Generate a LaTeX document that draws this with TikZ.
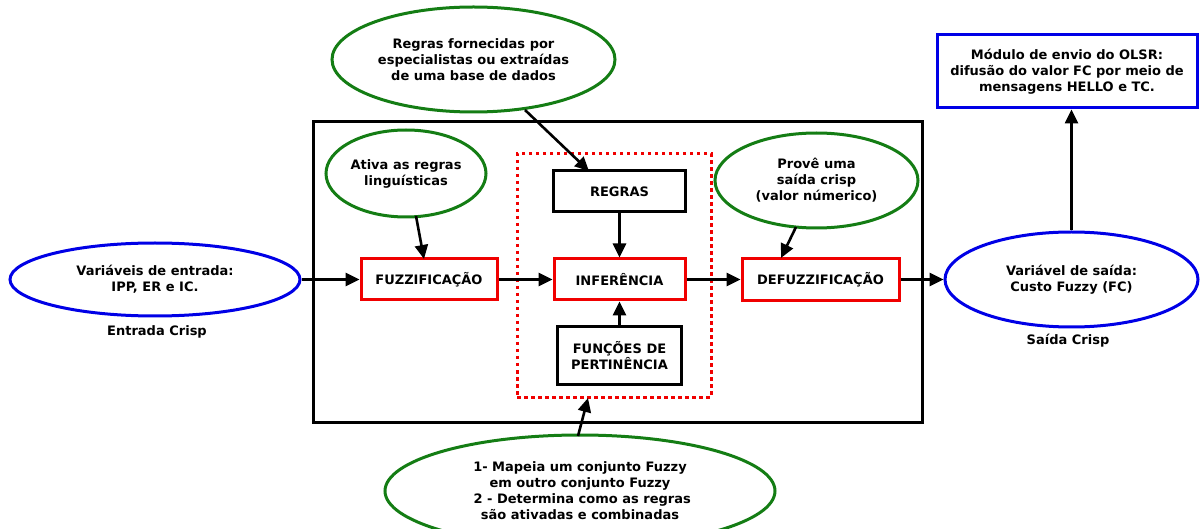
\documentclass[tikz,border=0pt]{standalone}
\usepackage{fontspec}
\setmainfont{DejaVu Sans}
\usetikzlibrary{arrows.meta,shapes.geometric}
\definecolor{bblue}{RGB}{0,0,230}
\definecolor{ggreen}{RGB}{20,125,20}
\definecolor{rred}{RGB}{240,0,0}
\tikzset{
  txt/.style={font=\fontsize{13}{16}\selectfont\bfseries, align=center},
  ell/.style={ellipse, draw, line width=3pt, inner sep=0pt, txt},
  blueell/.style={ell, draw=bblue},
  greenell/.style={ell, draw=ggreen},
  redbox/.style={rectangle, draw=rred, line width=3pt, inner sep=0pt, txt},
  blackbox/.style={rectangle, draw=black, line width=3pt, inner sep=0pt, txt},
  arr/.style={line width=2.6pt, -{Triangle[length=14pt,width=13pt]}},
}
\begin{document}
\begin{tikzpicture}[x=1pt,y=-1pt]
\useasboundingbox (0,0) rectangle (1200,529);
\clip (0,0) rectangle (1200,529);
% big frame
\node[blackbox, minimum width=609pt, minimum height=300pt] (frame) at (617.5,272) {};
% red dotted
\node[rectangle, draw=rred, line width=3pt, dash pattern=on 3.5pt off 3.5pt, minimum width=194pt, minimum height=243pt] (fis) at (614,275.5) {};
% ellipses
\node[blueell, minimum width=290pt, minimum height=73pt] (in) at (155,279.5) {Variáveis de entrada:\\IPP, ER e IC.};
\node[txt] (inlab) at (157,332) {Entrada Crisp};
\node[blueell, minimum width=253pt, minimum height=95pt] (out) at (1071.5,279.5) {Variável de saída:\\Custo Fuzzy (FC)};
\node[txt] (outlab) at (1068,341) {Saída Crisp};
\node[rectangle, draw=bblue, line width=3pt, txt, minimum width=260pt, minimum height=73pt, inner sep=0pt] (olsr) at (1067,71.5) {Módulo de envio do OLSR:\\difusão do valor FC por meio de\\mensagens HELLO e TC.};
\node[greenell, minimum width=283pt, minimum height=105pt] (top) at (473.5,59.5) {Regras fornecidas por\\especialistas ou extraídas\\de uma base de dados};
\node[greenell, minimum width=160pt, minimum height=87pt] (ativa) at (406,173.5) {Ativa as regras\\linguísticas};
\node[greenell, minimum width=203pt, minimum height=95pt] (prove) at (816.5,180.5) {Provê uma\\saída crisp\\(valor númerico)};
\node[greenell, minimum width=390pt, minimum height=112pt] (bot) at (580,491) {1- Mapeia um conjunto Fuzzy\\em outro conjunto Fuzzy\\\ 2 - Determina como as regras\\são ativadas e combinadas};
% boxes
\node[redbox, minimum width=136pt, minimum height=41pt] (fuzz) at (429,279.5) {FUZZIFICAÇÃO};
\node[redbox, minimum width=131pt, minimum height=41pt] (inf) at (619.5,279.5) {INFERÊNCIA};
\node[redbox, minimum width=157pt, minimum height=42pt] (defuzz) at (820.5,279.5) {DEFUZZIFICAÇÃO};
\node[blackbox, minimum width=132pt, minimum height=41pt] (regras) at (619.5,191.5) {REGRAS};
\node[blackbox, minimum width=124pt, minimum height=58pt] (func) at (619.5,356) {FUNÇÕES DE\\PERTINÊNCIA};
% arrows
\draw[arr] (in.east) -- (fuzz.west);
\draw[arr] (fuzz.east) -- (inf.west);
\draw[arr] (inf.east) -- (defuzz.west);
\draw[arr] (defuzz.east) -- (out.west);
\draw[arr] (regras.south) -- (inf.north);
\draw[arr] (func.north) -- (inf.south);
\draw[arr] (out.north) -- (olsr.south -| out.north);
\coordinate (ta) at (416,216);
\coordinate (tb) at (424,259);
\draw[arr] (ta) -- (tb);
\coordinate (pa) at (796,227);
\coordinate (pb) at (781,258);
\draw[arr] (pa) -- (pb);
\coordinate (ra) at (525,110);
\coordinate (rb) at (589,171);
\draw[arr] (ra) -- (rb);
\coordinate (ba) at (578,436);
\coordinate (bb) at (588,398);
\draw[arr] (ba) -- (bb);
\end{tikzpicture}
\end{document}
